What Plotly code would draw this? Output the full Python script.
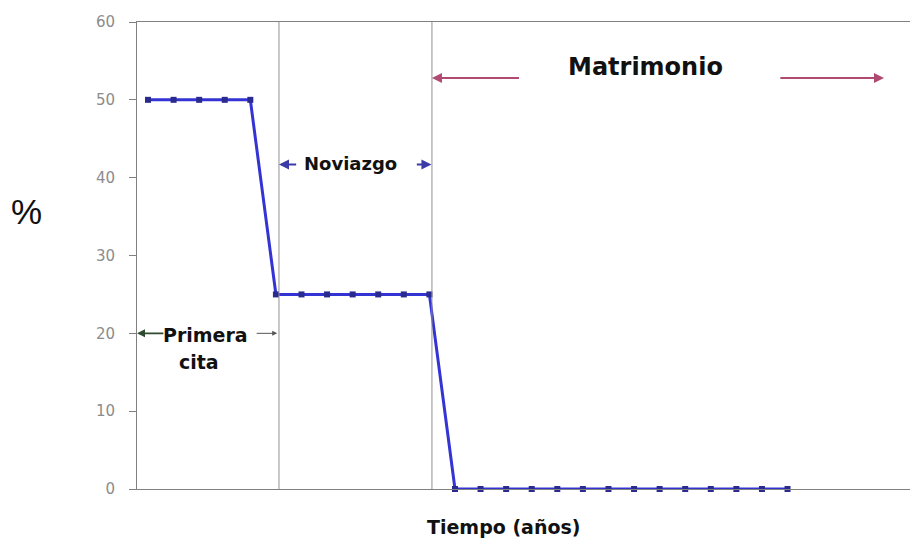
import plotly.graph_objects as go

# Data
periodo = list(range(26))
porcentaje = [50, 50, 50, 50, 50,
              25, 25, 25, 25, 25, 25, 25,
              0, 0, 0, 0, 0, 0, 0, 0, 0, 0, 0, 0, 0, 0]
y_ticks = [0, 10, 20, 30, 40, 50, 60]
limites_fase = [5.12, 11.1]

fig = go.Figure()
fig.add_trace(go.Scatter(
    x=periodo, y=porcentaje, mode="lines+markers",
    line=dict(color="#3434d4", width=3),
    marker=dict(symbol="square", size=6, color="#2b2b8f"),
    showlegend=False, cliponaxis=False,
))

for xb in limites_fase:
    fig.add_shape(type="line", xref="x", yref="y", x0=xb, x1=xb, y0=0, y1=60,
                  line=dict(color="#909090", width=1))

BF = "DejaVu Sans, Verdana, sans-serif"
anns = [
    dict(text="<b>Primera</b>", x=2.25, y=19.8, font=dict(size=19)),
    dict(text="<b>cita</b>", x=2.0, y=16.3, font=dict(size=19)),
    dict(text="<b>Noviazgo</b>", x=7.9, y=41.8, font=dict(size=18)),
    dict(text="<b>Matrimonio</b>", x=19.45, y=54.2, font=dict(size=24)),
]
for a in anns:
    a["font"]["family"] = BF
    a["font"]["color"] = "#111111"
    fig.add_annotation(xref="x", yref="y", showarrow=False, **a)

arrows = [
    (-0.43, 20, 0.66, 20, "#2e4a2e", 1.6),
    (5.05, 20, 4.19, 20, "#555555", 1.0),
    (5.12, 41.7, 5.85, 41.7, "#3a3aa8", 2.0),
    (11.08, 41.7, 10.45, 41.7, "#3a3aa8", 2.0),
    (11.1, 52.8, 14.56, 52.8, "#b04a72", 2.0),
    (28.77, 52.8, 24.66, 52.8, "#b04a72", 2.0),
]
for hx, hy, tx, ty, col, w in arrows:
    fig.add_annotation(x=hx, y=hy, ax=tx, ay=ty, xref="x", yref="y",
                       axref="x", ayref="y", showarrow=True, text="",
                       arrowhead=2, arrowsize=1, arrowwidth=w, arrowcolor=col)

fig.add_annotation(text="%", xref="paper", yref="y", x=-0.142, y=35.7,
                   xanchor="center", yanchor="middle", showarrow=False,
                   font=dict(family="Liberation Sans, Arial", size=35, color="#111111"))
fig.add_annotation(text="<b>Tiempo (años)</b>", xref="paper", yref="paper",
                   x=0.47, y=-0.081, xanchor="center", yanchor="middle", showarrow=False,
                   font=dict(family=BF, size=19, color="#111111"))

fig.update_xaxes(range=[-0.43, 30.1], showgrid=False, zeroline=False,
                 showticklabels=False, ticks="", showline=True, linecolor="#808080",
                 linewidth=1, mirror=True)
fig.update_yaxes(range=[0, 60], tickvals=y_ticks, showgrid=False, zeroline=False,
                 ticks="outside", ticklen=7, tickcolor="#808080",
                 showline=True, linecolor="#808080", linewidth=1,
                 tickfont=dict(family=BF, size=15, color="#8c8c8c"),
                 ticklabelstandoff=11)

# page body has an 8px margin; compensate so the plot area lands where the reference has it
fig.update_layout(width=910, height=536, plot_bgcolor="white", paper_bgcolor="white",
                  margin=dict(l=129, r=0, t=14, b=55, autoexpand=False))
fig.write_html("out.html")
